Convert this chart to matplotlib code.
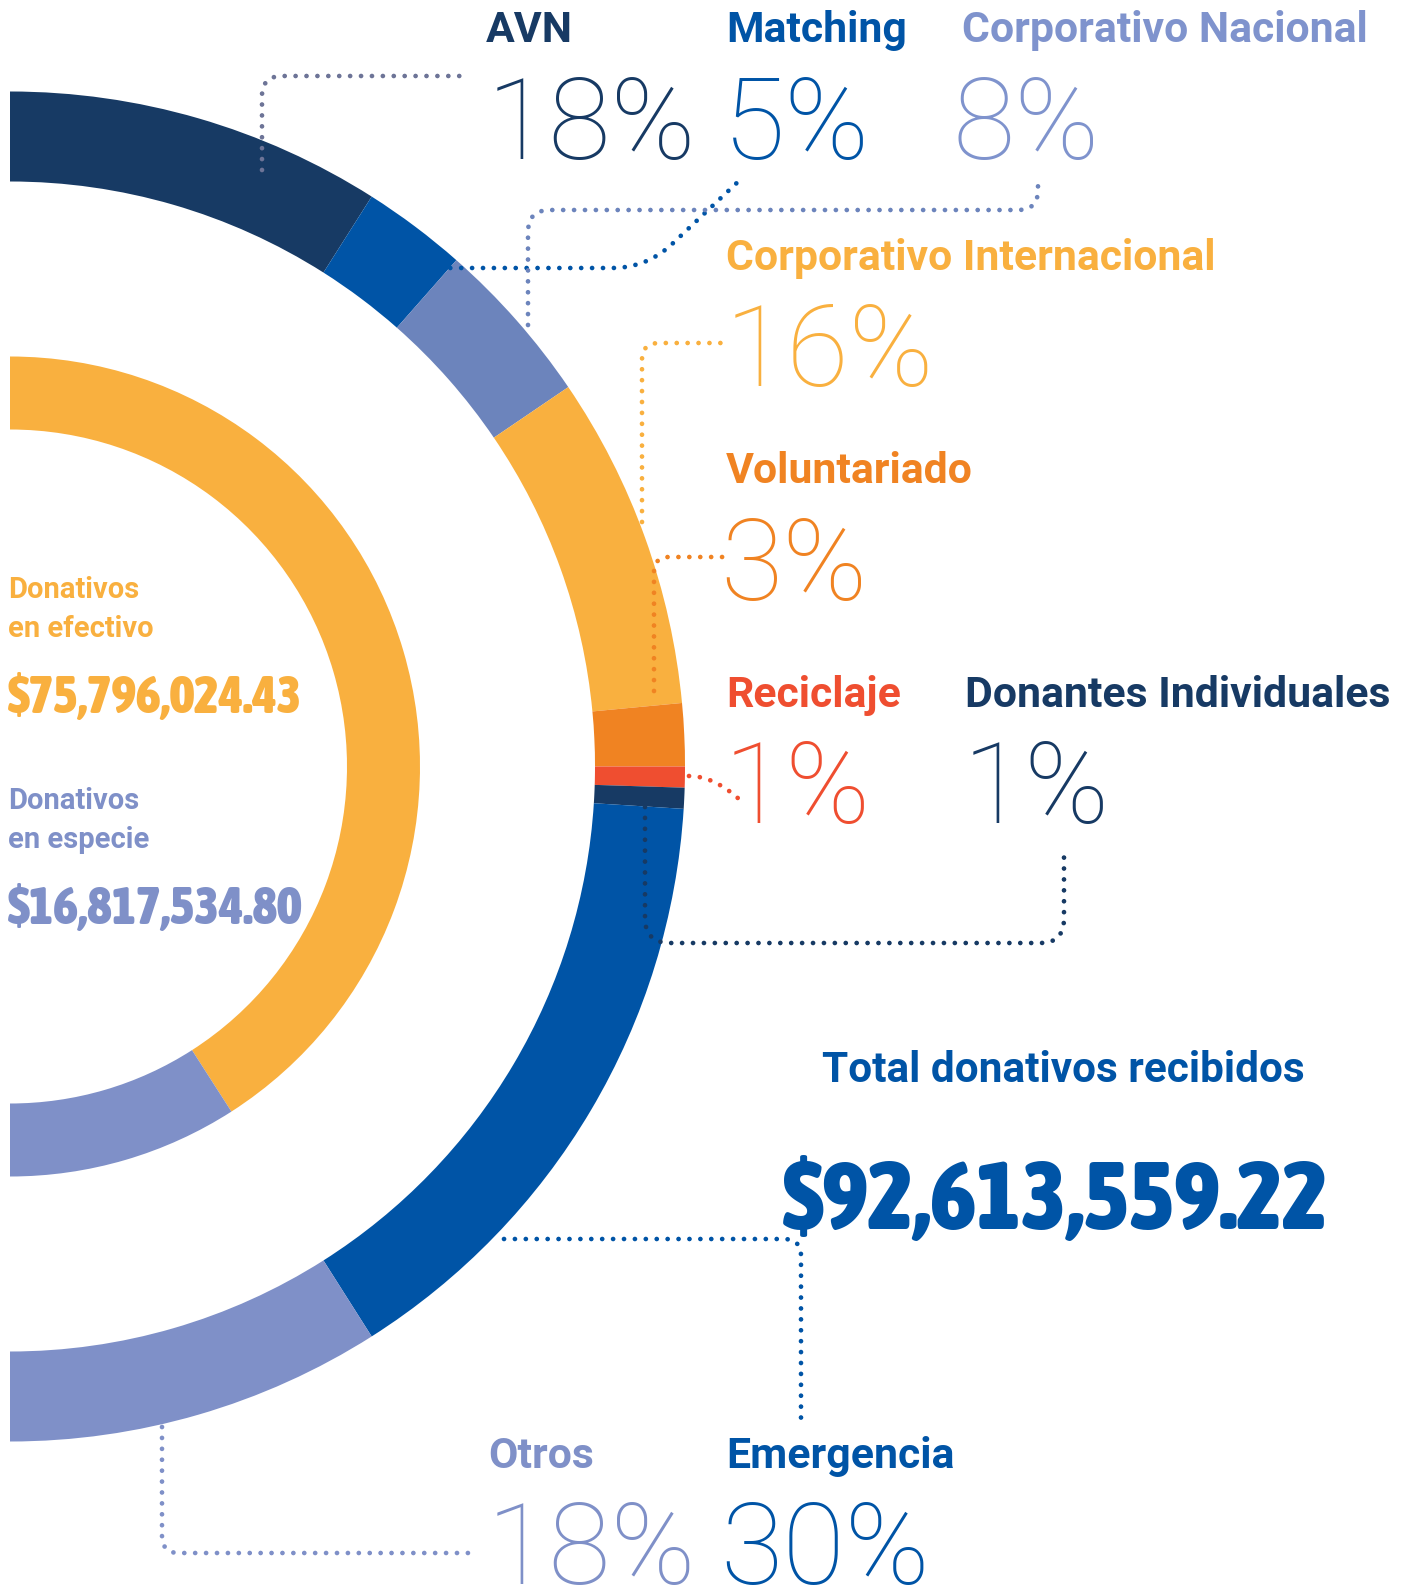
import matplotlib
matplotlib.use("Agg")
import matplotlib.pyplot as plt
from matplotlib import font_manager
from matplotlib.font_manager import FontProperties
from matplotlib.path import Path
from matplotlib.patches import PathPatch

# ========== Data ==========
outer_labels = ["AVN", "Matching", "Corporativo Nacional", "Corporativo Internacional",
                "Voluntariado", "Reciclaje", "Donantes Individuales", "Emergencia", "Otros"]
outer_pct = [18, 5, 8, 16, 3, 1, 1, 30, 18]
outer_colors = ["#173a64", "#0054a6", "#6c84bc", "#f9b03f", "#f08322",
                "#ef4e30", "#173a64", "#0054a6", "#7f90c8"]
label_colors = ["#173a64", "#0054a6", "#7f93cd", "#f9b03f", "#f08322",
                "#ef4e30", "#173a64", "#0054a6", "#7f90c8"]

inner_labels = ["Donativos\nen efectivo", "Donativos\nen especie"]
inner_amounts = [75796024.43, 16817534.80]
inner_colors = ["#f9b03f", "#7f90c8"]
total_amount = 92613559.22

# ========== Fonts ==========
BOLD = dict(family="Roboto", weight="bold")
THIN = dict(family="Roboto", weight=100)

# look for any bold condensed face for the money amounts
def _w(f):
    w = f.weight
    return w if isinstance(w, int) else font_manager.weight_dict.get(w, 400)

order = {"ultra-condensed": 0, "extra-condensed": 1, "condensed": 2, "semi-condensed": 3}
cands = [f for f in font_manager.fontManager.ttflist
         if f.stretch in order and _w(f) >= 600 and f.style == "normal"]
if cands:
    cands.sort(key=lambda f: (order[f.stretch], -_w(f)))
    COND = dict(fontproperties=FontProperties(fname=cands[0].fname))
else:
    COND = dict(family="Roboto", weight="bold")

W, H = 1409, 1589
fig = plt.figure(figsize=(W / 100, H / 100), dpi=100)
ax = fig.add_axes([0, 0, 1, 1])

# ========== Rings (half donuts, the right half) ==========
cx, cy = 10, 766.5
ax.pie(outer_pct + [sum(outer_pct)], radius=675, center=(cx, cy),
       startangle=-90, counterclock=True, colors=outer_colors + ["none"],
       wedgeprops=dict(width=90, linewidth=0), frame=True)
ax.pie(inner_amounts + [sum(inner_amounts)], radius=410, center=(cx, cy),
       startangle=-90, counterclock=True, colors=inner_colors + ["none"],
       wedgeprops=dict(width=73, linewidth=0), frame=True)

ax.set_xlim(0, W)
ax.set_ylim(H, 0)
ax.set_aspect("auto")
ax.axis("off")

# ========== Labels ==========
# (label x, label baseline, pct x, pct baseline) in pixels
pos = [
    (486, 42, 487, 159),
    (726, 42, 723, 159),
    (962, 42, 952, 159),
    (726, 270, 725, 386),
    (726, 483, 720, 600),
    (726, 707, 724, 823),
    (965, 707, 963, 823),
    (726, 1468, 720, 1584),
    (488, 1468, 487, 1584),
]
for lab, p, c, (lx, ly, px, py) in zip(outer_labels, outer_pct, label_colors, pos):
    ax.text(lx, ly, lab, color=c, fontsize=30.8, va="baseline", ha="left", **BOLD)
    ax.text(px, py, f"{p}%", color=c, fontsize=82, va="baseline", ha="left", **THIN)

# inner ring amounts (baseline given for the second line)
money = []
for lab, amt, c, y0 in zip(inner_labels, inner_amounts, inner_colors, [637, 848]):
    ax.text(8, y0, lab, color=c, fontsize=21, va="baseline", ha="left",
            linespacing=1.5, **BOLD)
    t = ax.text(8, y0 + 76, f"${amt:,.2f}", color=c, fontsize=46, va="baseline",
                ha="left", **COND)
    money.append((t, 295))

ax.text(1063, 1082, "Total donativos recibidos", color="#0054a6", fontsize=30.5,
        va="baseline", ha="center", **BOLD)
t = ax.text(1056, 1229, f"${total_amount:,.2f}", color="#0054a6", fontsize=91,
            va="baseline", ha="center", **COND)
money.append((t, 545))

# shrink the amounts so they keep the width they have in the picture
fig.canvas.draw()
for t, target in money:
    wpx = t.get_window_extent().width
    if wpx > target:
        t.set_fontsize(t.get_fontsize() * target / wpx)

# ========== Dotted leader lines ==========
M, L, C = Path.MOVETO, Path.LINETO, Path.CURVE3
leaders = [
    ("#6d7497", [(262, 170), (262, 96), (262, 76), (282, 76), (468, 76)], [M, L, C, C, L]),
    ("#0054a6", [(363, 268), (612, 268), (645, 268), (670, 246), (742, 178)], [M, L, C, C, L]),
    ("#6c84bc", [(528, 325), (528, 232), (528, 210), (550, 210), (1018, 210),
                 (1038, 210), (1038, 190), (1038, 182)], [M, L, C, C, L, C, C, L]),
    ("#f9b03f", [(642, 522), (642, 360), (642, 343), (659, 343), (723, 343)], [M, L, C, C, L]),
    ("#f08322", [(654, 691), (654, 572), (654, 557), (669, 557), (723, 557)], [M, L, C, C, L]),
    ("#ef4e30", [(689, 776), (714, 776), (740, 800)], [M, C, C]),
    ("#173a64", [(645, 807), (645, 918), (645, 943), (670, 943), (1040, 943),
                 (1064, 943), (1064, 919), (1064, 850)], [M, L, C, C, L, C, C, L]),
    ("#0054a6", [(504, 1239), (784, 1239), (801, 1239), (801, 1256), (801, 1422)], [M, L, C, C, L]),
    ("#7f90c8", [(162, 1427), (162, 1536), (162, 1553), (179, 1553), (474, 1553)], [M, L, C, C, L]),
]
for col, pts, codes in leaders:
    patch = PathPatch(Path(pts, codes), facecolor="none", edgecolor=col,
                      linewidth=3.4, linestyle=(0, (0.01, 2.3)), capstyle="round")
    ax.add_patch(patch)

fig.savefig("out.png", dpi=100)
